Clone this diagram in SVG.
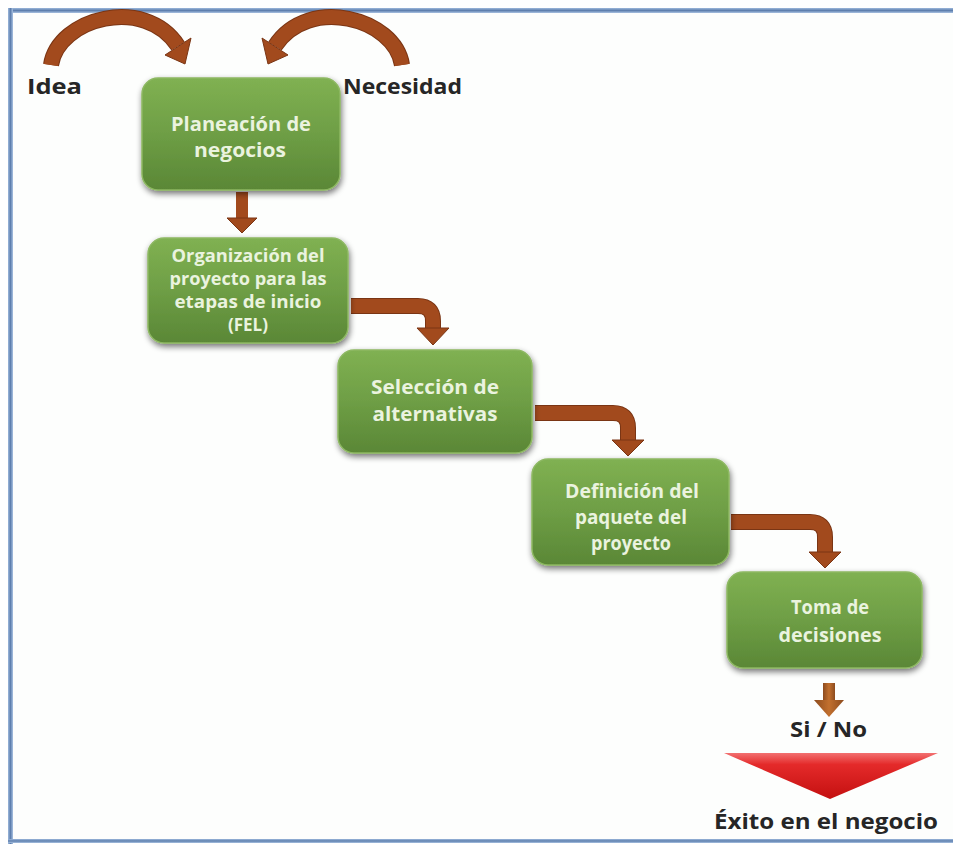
<svg xmlns="http://www.w3.org/2000/svg" width="953" height="844" viewBox="0 0 953 844">
  <defs>
    <linearGradient id="boxFill" x1="0" y1="0" x2="0" y2="1">
      <stop offset="0" stop-color="#80B152"/>
      <stop offset="0.5" stop-color="#6E9E45"/>
      <stop offset="1" stop-color="#5A8736"/>
    </linearGradient>
    <linearGradient id="frameH" x1="0" y1="0" x2="0" y2="1">
      <stop offset="0" stop-color="#9DB8DC"/>
      <stop offset="0.5" stop-color="#5E7FAE"/>
      <stop offset="1" stop-color="#A9C2E2"/>
    </linearGradient>
    <linearGradient id="frameV" x1="0" y1="0" x2="1" y2="0">
      <stop offset="0" stop-color="#9DB8DC"/>
      <stop offset="0.5" stop-color="#5E7FAE"/>
      <stop offset="1" stop-color="#A9C2E2"/>
    </linearGradient>
    <linearGradient id="smallArrow" x1="0" y1="0" x2="1" y2="0">
      <stop offset="0" stop-color="#8C4B1E"/>
      <stop offset="0.5" stop-color="#C2702E"/>
      <stop offset="1" stop-color="#8C4B1E"/>
    </linearGradient>
    <linearGradient id="redFunnel" x1="0" y1="0" x2="0" y2="1">
      <stop offset="0" stop-color="#F27070"/>
      <stop offset="0.25" stop-color="#E42A2A"/>
      <stop offset="1" stop-color="#C41010"/>
    </linearGradient>
    <filter id="shadow" x="-10%" y="-10%" width="125%" height="130%">
      <feGaussianBlur in="SourceAlpha" stdDeviation="3"/>
      <feOffset dx="1" dy="3" result="b"/>
      <feComponentTransfer><feFuncA type="linear" slope="0.55"/></feComponentTransfer>
      <feMerge><feMergeNode/><feMergeNode in="SourceGraphic"/></feMerge>
    </filter>
  </defs>
  <style>
    .box { fill: url(#boxFill); stroke: #8DB862; stroke-width: 1.5; filter: url(#shadow); }
    .boxText { font-family: "Open Sans", "Liberation Sans", sans-serif; font-weight: 700; font-size: 19.5px; fill: #EAF3DF; text-anchor: middle; }
    .tight { font-size: 17px; }
    .label { font-family: "Open Sans", "Liberation Sans", sans-serif; font-weight: 700; font-size: 21px; fill: #262626; }
    .band { fill: none; stroke: #A24A1D; stroke-width: 14; }
    .bandEdge { fill: none; stroke: #7A3514; stroke-width: 16; }
    .head { fill: #A24A1D; stroke: #7A3514; stroke-width: 1; }
  </style>

  <!-- page background and frame -->
  <rect x="0" y="0" width="953" height="844" fill="#FFFFFF"/>
  <rect x="12" y="12" width="941" height="828" fill="#FDFEFD"/>
  <rect x="8" y="8" width="945" height="5" fill="url(#frameH)"/>
  <rect x="8" y="8" width="5" height="836" fill="url(#frameV)"/>
  <rect x="8" y="839" width="945" height="4" fill="url(#frameH)"/>

  <!-- connectors -->
  <g id="connectors">
    <!-- Idea arc -->
    <path class="bandEdge" d="M 51 65 C 58 18, 145 -5, 178 46"/>
    <path class="band" d="M 51 65 C 58 18, 145 -5, 178 46"/>
    <polygon class="head" points="191,38 165,55 185,64"/>
    <!-- Necesidad arc -->
    <path class="bandEdge" d="M 402 65 C 395 18, 308 -5, 275 46"/>
    <path class="band" d="M 402 65 C 395 18, 308 -5, 275 46"/>
    <polygon class="head" points="262,38 288,55 268,64"/>

    <!-- Planeación -> Organización -->
    <rect x="236" y="192" width="12" height="27" fill="#A24A1D"/>
    <polygon class="head" points="227,218 257,218 242,233"/>

    <!-- Organización -> Selección -->
    <path class="bandEdge" d="M 351 306 H 418 Q 433 306 433 321 V 329"/>
    <path class="band" d="M 351 306 H 418 Q 433 306 433 321 V 329"/>
    <polygon class="head" points="417,328 449,328 433,345"/>

    <!-- Selección -> Definición -->
    <path class="bandEdge" d="M 535 413 H 613 Q 628 413 628 428 V 441"/>
    <path class="band" d="M 535 413 H 613 Q 628 413 628 428 V 441"/>
    <polygon class="head" points="612,440 644,440 628,456"/>

    <!-- Definición -> Toma de decisiones -->
    <path class="bandEdge" d="M 731 522 H 810 Q 825 522 825 537 V 553"/>
    <path class="band" d="M 731 522 H 810 Q 825 522 825 537 V 553"/>
    <polygon class="head" points="809,552 841,552 825,568"/>

    <!-- Toma de decisiones -> Si / No -->
    <rect x="823" y="683" width="12" height="18" fill="url(#smallArrow)"/>
    <polygon points="814,700 844,700 829,717" fill="url(#smallArrow)"/>
  </g>

  <!-- outer labels -->
  <g id="idea"><text class="label" x="27" y="94" textLength="55" lengthAdjust="spacingAndGlyphs">Idea</text></g>
  <g id="necesidad"><text class="label" x="343" y="94" textLength="119" lengthAdjust="spacingAndGlyphs">Necesidad</text></g>

  <g id="planeacion">
    <rect class="box" x="142" y="78" width="198" height="112" rx="16"/>
    <text class="boxText" x="241" y="131" textLength="140" lengthAdjust="spacingAndGlyphs">Planeación de</text>
    <text class="boxText" x="240" y="157" textLength="92" lengthAdjust="spacingAndGlyphs">negocios</text>
  </g>

  <g id="organizacion">
    <rect class="box" x="148" y="238" width="200" height="105" rx="16"/>
    <text class="boxText tight" x="248" y="262" textLength="153" lengthAdjust="spacingAndGlyphs">Organización del</text>
    <text class="boxText tight" x="248" y="285" textLength="157" lengthAdjust="spacingAndGlyphs">proyecto para las</text>
    <text class="boxText tight" x="248" y="308" textLength="147" lengthAdjust="spacingAndGlyphs">etapas de inicio</text>
    <text class="boxText tight" x="248" y="331" textLength="40" lengthAdjust="spacingAndGlyphs">(FEL)</text>
  </g>

  <g id="seleccion">
    <rect class="box" x="338" y="350" width="194" height="103" rx="16"/>
    <text class="boxText" x="435" y="394" textLength="128" lengthAdjust="spacingAndGlyphs">Selección de</text>
    <text class="boxText" x="435" y="421" textLength="125" lengthAdjust="spacingAndGlyphs">alternativas</text>
  </g>

  <g id="definicion">
    <rect class="box" x="532" y="459" width="197" height="106" rx="16"/>
    <text class="boxText" x="632" y="498" textLength="134" lengthAdjust="spacingAndGlyphs">Definición del</text>
    <text class="boxText" x="631" y="524" textLength="112" lengthAdjust="spacingAndGlyphs">paquete del</text>
    <text class="boxText" x="631" y="550" textLength="80" lengthAdjust="spacingAndGlyphs">proyecto</text>
  </g>

  <g id="toma">
    <rect class="box" x="727" y="572" width="195" height="96" rx="16"/>
    <text class="boxText" x="830" y="614" textLength="78" lengthAdjust="spacingAndGlyphs">Toma de</text>
    <text class="boxText" x="830" y="642" textLength="103" lengthAdjust="spacingAndGlyphs">decisiones</text>
  </g>

  <g id="sino"><text class="label" x="790" y="737" textLength="77" lengthAdjust="spacingAndGlyphs">Si / No</text></g>

  <g id="exito">
    <polygon points="724,753 938,753 830,799" fill="url(#redFunnel)"/>
    <text class="label" x="714" y="829" font-weight="600" font-size="24" textLength="224" lengthAdjust="spacingAndGlyphs">Éxito en el negocio</text>
  </g>
</svg>
